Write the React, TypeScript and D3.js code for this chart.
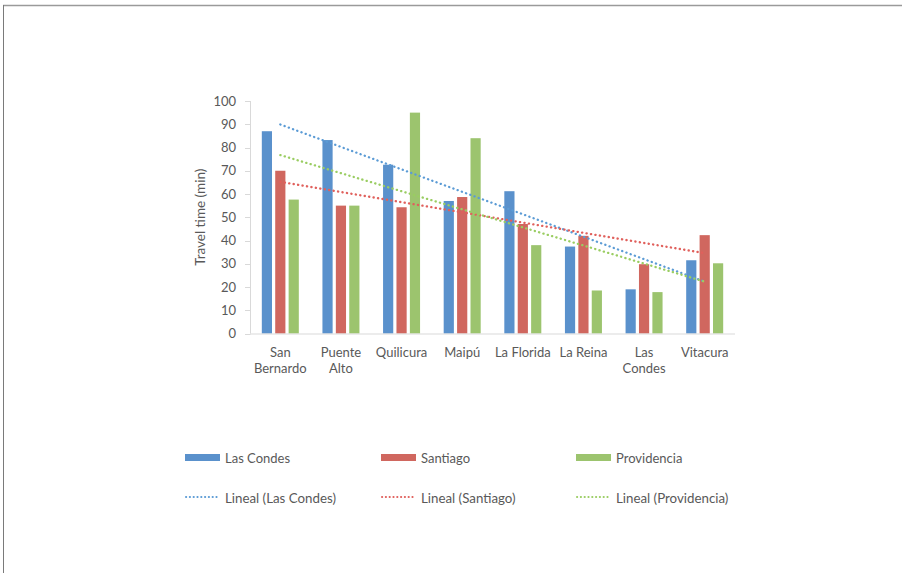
import React from "react";
import * as d3 from "d3";

const categories = [
  ["San", "Bernardo"],
  ["Puente", "Alto"],
  ["Quilicura"],
  ["Maipú"],
  ["La Florida"],
  ["La Reina"],
  ["Las", "Condes"],
  ["Vitacura"],
];
const categoryKeys = categories.map((c) => c.join(" "));

const lasCondes = [87, 83.2, 72.6, 57, 61.2, 37.4, 19, 31.5];
const santiago = [70, 55, 54.3, 58.7, 47.1, 42, 29.8, 42.3];
const providencia = [57.6, 55, 95, 84, 38, 18.5, 17.8, 30.2];

const seriesNames = ["Las Condes", "Santiago", "Providencia"];
const barColors = ["#5A91CC", "#D0675F", "#9CC46E"];
const trendColors = ["#5B9BD5", "#E0605C", "#9ACD62"];
const yTicks = [0, 10, 20, 30, 40, 50, 60, 70, 80, 90, 100];

const W = 902;
const H = 573;
const FONT = "Lato, 'Open Sans', sans-serif";
const TEXT = "#595959";

// least-squares fit over category index 1..n
function linearFit(vals: number[]) {
  const xs = vals.map((_, i) => i + 1);
  const mx = d3.mean(xs)!;
  const my = d3.mean(vals)!;
  let sxy = 0;
  let sxx = 0;
  xs.forEach((x, i) => {
    sxy += (x - mx) * (vals[i] - my);
    sxx += (x - mx) * (x - mx);
  });
  const slope = sxy / sxx;
  return (x: number) => my + slope * (x - mx);
}

export default function App() {
  const series = [lasCondes, santiago, providencia];
  const x = d3.scaleBand<string>().domain(categoryKeys).range([250, 735]);
  const inner = d3
    .scaleBand<string>()
    .domain(seriesNames)
    .range([0, 37])
    .paddingInner(0.24);
  const y = d3.scaleLinear().domain([0, 100]).range([333.5, 101]);
  const groupOffset = (x.bandwidth() - 37) / 2;
  const center = (i: number) => x(categoryKeys[i])! + x.bandwidth() / 2;

  const trendLine = d3
    .line<[number, number]>()
    .x((d) => d[0])
    .y((d) => d[1]);

  const legendCols = [185, 381, 576];

  return (
    <svg
      width={W}
      height={H}
      style={{ position: "absolute", left: 0, top: 0, background: "#fff" }}
      fontFamily={FONT}
    >
      {/* frame */}
      <line x1={3} y1={5.5} x2={W} y2={5.5} stroke="#9a9a9a" strokeWidth={1.5} />
      <line x1={3.5} y1={5} x2={3.5} y2={H} stroke="#7a7a7a" strokeWidth={1} />

      {/* y axis */}
      <line x1={250.5} y1={y(100)} x2={250.5} y2={y(0)} stroke="#d9d9d9" />
      {yTicks.map((t) => (
        <g key={t}>
          <line
            x1={245}
            x2={250.5}
            y1={Math.round(y(t)) + 0.5}
            y2={Math.round(y(t)) + 0.5}
            stroke="#d9d9d9"
          />
          <text
            x={236}
            y={y(t)}
            dy="0.35em"
            textAnchor="end"
            fontSize={13}
            fill={TEXT}
          >
            {t}
          </text>
        </g>
      ))}
      <text
        transform={`translate(205,${(y(0) + y(100)) / 2}) rotate(-90)`}
        textAnchor="middle"
        fontSize={13.5}
        fill={TEXT}
      >
        Travel time (min)
      </text>

      {/* bars */}
      {series.map((vals, s) =>
        vals.map((v, i) => (
          <rect
            key={`${s}-${i}`}
            x={x(categoryKeys[i])! + groupOffset + inner(seriesNames[s])!}
            y={y(v)}
            width={inner.bandwidth()}
            height={y(0) - y(v)}
            fill={barColors[s]}
          />
        ))
      )}

      {/* x axis */}
      <line x1={250} y1={y(0) + 0.5} x2={735} y2={y(0) + 0.5} stroke="#d9d9d9" />
      {categories.map((lines, i) => (
        <text
          key={i}
          x={center(i)}
          y={357}
          textAnchor="middle"
          fontSize={13}
          fill={TEXT}
        >
          {lines.map((l, j) => (
            <tspan key={j} x={center(i)} dy={j === 0 ? 0 : 16}>
              {l}
            </tspan>
          ))}
        </text>
      ))}

      {/* linear trends */}
      {series.map((vals, s) => {
        const f = linearFit(vals);
        const pts: [number, number][] = [
          [center(0), y(f(1))],
          [center(vals.length - 1), y(f(vals.length))],
        ];
        return (
          <path
            key={s}
            d={trendLine(pts)!}
            fill="none"
            stroke={trendColors[s]}
            strokeWidth={2.3}
            strokeLinecap="round"
            strokeDasharray="0.2 4.3"
          />
        );
      })}

      {/* legend */}
      {seriesNames.map((n, s) => (
        <g key={n}>
          <rect x={legendCols[s]} y={454} width={35} height={7} fill={barColors[s]} />
          <text x={legendCols[s] + 40} y={462.5} fontSize={13} fill={TEXT}>
            {n}
          </text>
          <line
            x1={legendCols[s] + 1}
            x2={legendCols[s] + 35}
            y1={497}
            y2={497}
            stroke={trendColors[s]}
            strokeWidth={2}
            strokeLinecap="round"
            strokeDasharray="0.2 3.6"
          />
          <text x={legendCols[s] + 40} y={502.5} fontSize={13.3} fill={TEXT}>
            {`Lineal (${n})`}
          </text>
        </g>
      ))}
    </svg>
  );
}
